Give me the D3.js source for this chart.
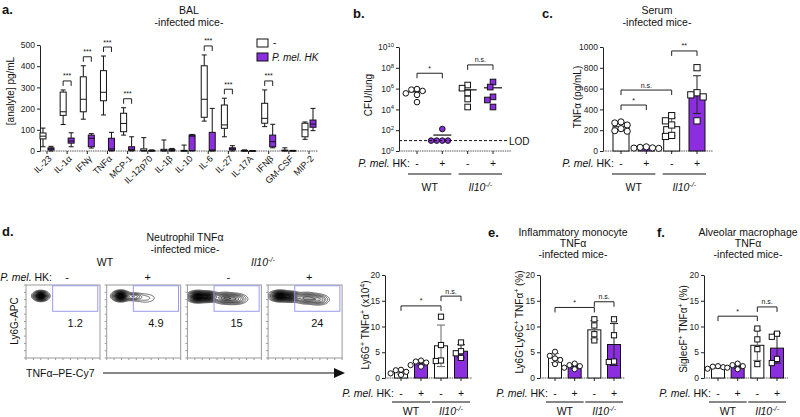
<!DOCTYPE html>
<html><head><meta charset="utf-8">
<script src="https://cdn.jsdelivr.net/npm/d3@7"></script>
<style>body{margin:0;background:#fff}svg{display:block}</style>
</head><body><svg id="c" width="800" height="417"></svg>
<script>
const PURPLE = "#8c2ee0";
const FONT = "'Liberation Sans', Arial, Helvetica, sans-serif";

// ---------- Panel a data (BAL box plots: [min, q1, median, q3, max]) ----------
const cytokines = ["IL-23","IL-1α","IFNγ","TNFα","MCP-1","IL-12p70","IL-1β","IL-10","IL-6","IL-27","IL-17A","IFNβ","GM-CSF","MIP-2"];
const balUntreated = [[20,57,70,85,108],[125,168,185,278,288],[150,185,244,350,402],[170,237,277,379,448],[75,91,130,178,204],[0,1,3,10,63],[0,1,3,8,52],[0,0,1,3,28],[141,159,244,402,453],[67,107,123,217,249],[0,0,1,3,5],[115,131,154,225,288],[0,1,2,4,15],[55,67,100,131,137]];
const balHK = [[0,5,10,15,22],[20,37,47,61,86],[14,20,60,75,82],[0,3,10,60,88],[0,3,8,20,67],[0,0,1,3,5],[0,1,3,8,12],[0,2,70,75,78],[0,1,5,88,201],[0,5,10,15,25],[0,0,1,1,2],[15,20,44,75,126],[0,0,1,2,3],[96,112,127,146,201]];
const balSig = [null,"***","***","***","***",null,null,null,"***","***",null,"***",null,null];
const balTicks = [0,100,200,300,400,500];

// ---------- Panel b (CFU/lung) ----------
const groupKeys = ["WT-","WT+","KO-","KO+"];
const hkLabels = ["-","+","-","+"];
const cfuWTneg = [9e5,8e5,6e5,3.5e5,2.5e5,5e4];
const cfuWTpos = [130,10,10,10,10];
const cfuKOneg = [2.2e6,1.1e6,3.8e5,1e5,1.7e4];
const cfuKOpos = [4.3e6,1.4e6,1.6e5,8e4,1.7e4];
const cfuLOD = 10;
const cfuTicks = [1,1e2,1e4,1e6,1e8,1e10];
const cfuSig = [["*",0,1,3e7],["n.s.",2,3,1.9e8]];

// ---------- Panel c (serum TNFα) ----------
const serumWTneg = [280,270,250,215,195,190];
const serumWTpos = [40,35,30,28,25];
const serumKOneg = [340,290,250,150,140];
const serumKOpos = [801,560,540,520,290];
const serumTicks = [0,200,400,600,800,1000];
const serumSig = [["*",0,1,442],["n.s.",0,2,586],["**",2,3,962]];

// ---------- Panel d (neutrophil) ----------
const flowHK = ["-","+","-","+"];
const flowPct = ["1.2","4.9","15","24"];
// populations: [centre x, centre y, spread x, spread y, weight] in flow units (0-100)
const flowPops = [
  [[20,85,4.5,2.8,1],[62,84,12,5,0.01]],
  [[19,85,5,3,1],[36,84,6,2.5,0.18],[52,82,9,4,0.05]],
  [[14,84,6,3.2,1],[28,84,6,3,0.7],[50,82,7,3.5,0.3],[64,81,8,3.5,0.25]],
  [[16,85,6,3,1],[30,84,6,3,0.6],[52,82,8,3.5,0.3],[68,80,7,3.5,0.2]]
];
const flowGate = [36,97,64,99];
const neutWTneg = [0.6,0.9,1.2,1.5,1.6];
const neutWTpos = [2.2,2.5,3.0,3.2,3.4];
const neutKOneg = [3.3,3.4,6.4,11.9];
const neutKOpos = [3.9,4.8,5.2,6.9];
const neutSig = [["*",0,2,14.0],["n.s.",2,3,15.9]];

// ---------- Panel e (monocyte) ----------
const monoWTneg = [2.7,3.5,3.8,4.3,5.1];
const monoWTpos = [1.7,2.0,2.3,2.5,2.8];
const monoKOneg = [7.3,8.5,10.2,11.4];
const monoKOpos = [3.1,3.2,8.3,11.4];
const monoSig = [["*",0,2,13.7],["n.s.",2,3,14.8]];

// ---------- Panel f (alveolar macrophage) ----------
const macWTneg = [1.8,2.1,2.2,2.3];
const macWTpos = [1.7,2.0,2.3,2.5,2.8];
const macKOneg = [2.7,5.6,7.5,9.6];
const macKOpos = [2.9,3.7,8.0,8.6];
const macSig = [["*",0,2,12.0],["n.s.",2,3,13.8]];
const pctTicks = [0,5,10,15,20];

const svg = d3.select("#c");

function rich(t, parts, size) {
  let up = 0;
  parts.forEach(p => {
    const [txt, o] = Array.isArray(p) ? [p[0], p[1] || {}] : [p, {}];
    const ts = t.append("tspan").text(txt);
    const target = o.sup ? -size * 0.4 : 0;
    if (target !== up) { ts.attr("dy", target - up); up = target; }
    if (o.sup) ts.attr("font-size", size * 0.7);
    if (o.italic) ts.attr("font-style", "italic");
  });
}
function addText(g, x, y, str, o = {}) {
  const size = o.size || 10;
  const t = g.append("text").attr("x", x).attr("y", y).attr("font-family", FONT)
    .attr("font-size", size).attr("fill", "#111").attr("text-anchor", o.anchor || "middle");
  if (o.bold) t.attr("font-weight", "bold");
  if (o.italic) t.attr("font-style", "italic");
  if (o.rotate) t.attr("transform", `rotate(${o.rotate},${x},${y})`);
  if (Array.isArray(str)) rich(t, str, size); else t.text(str);
  return t;
}
function styleAxis(sel) {
  sel.attr("font-family", FONT).attr("font-size", 8.5);
  sel.select(".domain").attr("stroke", "#222");
  sel.selectAll(".tick line").attr("stroke", "#222");
  sel.selectAll(".tick text").attr("fill", "#222");
}
function bracket(g, x1, x2, y, label) {
  g.append("path").attr("d", `M${x1},${y + 5}V${y}H${x2}V${y + 5}`).attr("fill", "none").attr("stroke", "#222").attr("stroke-width", 1);
  addText(g, (x1 + x2) / 2, y - 2.5, label, { size: 7 });
}
function dodge(vals, y, r) {
  const pts = vals.map(v => ({ v, py: y(v) })).sort((a, b) => a.py - b.py);
  const placed = [];
  pts.forEach(p => {
    for (let k = 0; k < 40; k++) {
      const off = (k % 2 ? -1 : 1) * Math.ceil(k / 2) * r;
      const ok = placed.every(q => Math.hypot(q.dx - off, q.py - p.py) >= 2 * r * 0.98);
      if (ok) { p.dx = off; placed.push(p); break; }
    }
  });
  return placed;
}
function marker(g, shape, cx, cy, r, fill) {
  if (shape === "circle") g.append("circle").attr("cx", cx).attr("cy", cy).attr("r", r).attr("fill", fill).attr("stroke", "#111").attr("stroke-width", 1);
  else g.append("rect").attr("x", cx - r).attr("y", cy - r).attr("width", 2 * r).attr("height", 2 * r).attr("fill", fill).attr("stroke", "#111").attr("stroke-width", 1);
}

// ================= Panel a =================
(function () {
  const g = svg.append("g");
  addText(g, 2, 14, "a.", { size: 13, bold: true, anchor: "start" });
  addText(g, 189, 14, "BAL", { size: 10.5 });
  addText(g, 189, 26, "-infected mice-", { size: 10.5 });
  const x = d3.scalePoint().domain(cytokines).range([47, 309]);
  const y = d3.scaleLinear().domain([0, 500]).range([151, 45]);
  g.append("g").attr("transform", "translate(40,0)")
    .call(d3.axisLeft(y).tickValues(balTicks).tickSize(3).tickSizeOuter(0).tickPadding(2)).call(styleAxis);
  g.append("line").attr("x1", 40).attr("x2", 318).attr("y1", 151).attr("y2", 151).attr("stroke", "#555").attr("stroke-dasharray", "1.5,0.8");
  cytokines.forEach(c => {
    g.append("line").attr("x1", x(c)).attr("x2", x(c)).attr("y1", 151).attr("y2", 154).attr("stroke", "#222");
    g.append("text").attr("transform", `translate(${x(c) + 3},157) rotate(-45)`).attr("text-anchor", "end")
      .attr("dy", "0.35em").attr("font-family", FONT).attr("font-size", 9).attr("fill", "#111").text(c);
  });
  const bw = 6;
  function box(cx, d, fill) {
    const s = "#111";
    g.append("line").attr("x1", cx).attr("x2", cx).attr("y1", y(d[0])).attr("y2", y(d[1])).attr("stroke", s);
    g.append("line").attr("x1", cx).attr("x2", cx).attr("y1", y(d[3])).attr("y2", y(d[4])).attr("stroke", s);
    [d[0], d[4]].forEach(v => g.append("line").attr("x1", cx - 2.5).attr("x2", cx + 2.5).attr("y1", y(v)).attr("y2", y(v)).attr("stroke", s));
    g.append("rect").attr("x", cx - bw / 2).attr("y", y(d[3])).attr("width", bw).attr("height", Math.max(0.5, y(d[1]) - y(d[3])))
      .attr("fill", fill).attr("stroke", s).attr("stroke-width", 1);
    g.append("line").attr("x1", cx - bw / 2).attr("x2", cx + bw / 2).attr("y1", y(d[2])).attr("y2", y(d[2])).attr("stroke", s);
  }
  cytokines.forEach((c, i) => {
    box(x(c) - 4, balUntreated[i], "#fff");
    box(x(c) + 4, balHK[i], PURPLE);
    if (balSig[i]) {
      const top = y(Math.max(balUntreated[i][4], balHK[i][4])) - 9;
      bracket(g, x(c) - 4, x(c) + 4, top, balSig[i]);
    }
  });
  addText(g, 14, 91, "[analyte] pg/mL", { size: 10, rotate: -90 });
  // legend
  g.append("rect").attr("x", 257).attr("y", 39).attr("width", 11).attr("height", 8).attr("fill", "#fff").attr("stroke", "#111");
  addText(g, 273, 46, "-", { size: 10, anchor: "start" });
  g.append("rect").attr("x", 257).attr("y", 53).attr("width", 11).attr("height", 8).attr("fill", PURPLE).attr("stroke", "#111");
  addText(g, 272, 61, "P. mel. HK", { size: 10, anchor: "start", italic: true });
})();

// ============ generic grouped panel (b, c, d-bar, e, f) ============
function groupPanel(cfg) {
  const g = svg.append("g");
  const x = d3.scalePoint().domain(groupKeys).range([cfg.x0, cfg.x1]);
  const y = (cfg.log ? d3.scaleLog() : d3.scaleLinear()).domain(cfg.domain).range([cfg.yb, cfg.yt]);
  const ax = d3.axisLeft(y).tickValues(cfg.ticks).tickSize(3).tickSizeOuter(0).tickPadding(2).tickFormat(d3.format("d"));
  const axg = g.append("g").attr("transform", `translate(${cfg.axisX},0)`).call(ax).call(styleAxis);
  if (cfg.log) {
    axg.selectAll(".tick text").each(function (d) {
      const t = d3.select(this); t.text("");
      rich(t, ["10", [String(Math.round(Math.log10(d))), { sup: true }]], 8.5);
    });
  }
  g.append("line").attr("x1", cfg.axisX).attr("x2", cfg.xEnd).attr("y1", cfg.yb).attr("y2", cfg.yb).attr("stroke", "#555").attr("stroke-dasharray", "1.5,0.8");
  groupKeys.forEach(k => g.append("line").attr("x1", x(k)).attr("x2", x(k)).attr("y1", cfg.yb).attr("y2", cfg.yb + 3).attr("stroke", "#222"));
  groupKeys.forEach((k, i) => {
    const vals = cfg.values[i];
    const m = d3.mean(vals), sd = d3.deviation(vals);
    const purple = i % 2 === 1;
    const shape = i < 2 ? "circle" : "square";
    if (!cfg.log) {
      g.append("rect").attr("x", x(k) - cfg.bw / 2).attr("y", y(m)).attr("width", cfg.bw).attr("height", y(0) - y(m))
        .attr("fill", purple ? PURPLE : "#fff").attr("stroke", "#111").attr("stroke-width", 1);
      const es = purple ? "#222" : "#666";
      g.append("line").attr("x1", x(k)).attr("x2", x(k)).attr("y1", y(Math.max(0, m - sd))).attr("y2", y(m + sd)).attr("stroke", es);
      g.append("line").attr("x1", x(k) - 4).attr("x2", x(k) + 4).attr("y1", y(m + sd)).attr("y2", y(m + sd)).attr("stroke", es);
      if (m - sd > 0) g.append("line").attr("x1", x(k) - 4).attr("x2", x(k) + 4).attr("y1", y(m - sd)).attr("y2", y(m - sd)).attr("stroke", es);
    } else {
      g.append("line").attr("x1", x(k) - 9).attr("x2", x(k) + 9).attr("y1", y(m)).attr("y2", y(m)).attr("stroke", "#111").attr("stroke-width", 1.2);
    }
    const fill = cfg.log && purple ? PURPLE : "#fff";
    dodge(vals, y, cfg.r).forEach(p => marker(g, shape, x(k) + p.dx, p.py, cfg.r, fill));
  });
  if (cfg.lod) {
    g.append("line").attr("x1", cfg.axisX).attr("x2", cfg.xEnd - 3).attr("y1", y(cfg.lod)).attr("y2", y(cfg.lod)).attr("stroke", "#111").attr("stroke-dasharray", "3,2");
    addText(g, cfg.xEnd - 2, y(cfg.lod) + 4, "LOD", { size: 10, anchor: "start" });
  }
  cfg.sig.forEach(s => bracket(g, x(groupKeys[s[1]]), x(groupKeys[s[2]]), y(s[3]), s[0]));
  // bottom labels
  addText(g, x("WT-") - 7, cfg.hkY, [["P. mel.", { italic: true }], " HK:"], { size: 10.5, anchor: "end" });
  groupKeys.forEach((k, i) => addText(g, x(k), cfg.hkY, hkLabels[i], { size: 10.5 }));
  [["WT-", "WT+", ["WT"]], ["KO-", "KO+", [["Il10", { italic: true }], ["-/-", { sup: true, italic: true }]]]].forEach(([a, b, lab]) => {
    g.append("line").attr("x1", x(a) - 9).attr("x2", x(b) + 9).attr("y1", cfg.ulY).attr("y2", cfg.ulY).attr("stroke", "#111");
    addText(g, (x(a) + x(b)) / 2, cfg.genoY, lab, { size: 10.5 });
  });
  addText(g, cfg.ylabX, cfg.ylabY, cfg.ylab, { size: 10, rotate: -90 });
  return g;
}

// ================= Panel b =================
addText(svg, 353, 18, "b.", { size: 13, bold: true, anchor: "start" });
groupPanel({
  log: true, axisX: 399, x0: 417, x1: 493, xEnd: 511, domain: [1, 1e10], yb: 151, yt: 47, ticks: cfuTicks,
  values: [cfuWTneg, cfuWTpos, cfuKOneg, cfuKOpos], r: 2.8, lod: cfuLOD, sig: cfuSig,
  hkY: 167, ulY: 174, genoY: 191, ylabX: 372, ylabY: 95, ylab: "CFU/lung"
});

// ================= Panel c =================
addText(svg, 542, 18, "c.", { size: 13, bold: true, anchor: "start" });
addText(svg, 657, 14, "Serum", { size: 10.5 });
addText(svg, 657, 26, "-infected mice-", { size: 10.5 });
groupPanel({
  axisX: 603, x0: 621, x1: 697, xEnd: 713, domain: [0, 1000], yb: 151, yt: 47, ticks: serumTicks, bw: 16,
  values: [serumWTneg, serumWTpos, serumKOneg, serumKOpos], r: 3.1, sig: serumSig,
  hkY: 167, ulY: 174, genoY: 191, ylabX: 581, ylabY: 97, ylab: "TNFα (pg/mL)"
});

// ================= Panel d =================
(function () {
  const g = svg.append("g");
  addText(g, 2, 236, "d.", { size: 13, bold: true, anchor: "start" });
  addText(g, 185, 241, "Neutrophil TNFα", { size: 10.5 });
  addText(g, 185, 253, "-infected mice-", { size: 10.5 });
  addText(g, 105, 266, "WT", { size: 10.5 });
  addText(g, 263, 266, [["Il10", { italic: true }], ["-/-", { sup: true, italic: true }]], { size: 10.5 });
  addText(g, 52, 281, [["P. mel.", { italic: true }], " HK:"], { size: 10.5, anchor: "end" });
  const left0 = 26, step = 80.7, W = 74, top = 285, bot = 358, H = bot - top;
  const defs = svg.append("defs");
  flowPops.forEach((pops, i) => {
    const left = left0 + i * step;
    const fx = d3.scaleLinear().domain([0, 100]).range([left, left + W]);
    const fy = d3.scaleLinear().domain([0, 100]).range([bot, top]);
    const vals = new Float64Array(W * H);
    for (let j = 0; j < H; j++) for (let k = 0; k < W; k++) {
      const xv = fx.invert(left + k + 0.5), yv = fy.invert(top + j + 0.5);
      let s = 0;
      pops.forEach(p => { s += p[4] * Math.exp(-((xv - p[0]) ** 2) / (2 * p[2] ** 2) - ((yv - p[1]) ** 2) / (2 * p[3] ** 2)); });
      vals[j * W + k] = s;
    }
    const mx = d3.max(vals);
    const th = [0.02, 0.04, 0.07, 0.1, 0.14, 0.19, 0.25, 0.32, 0.4, 0.48, 0.56, 0.64, 0.72, 0.8, 0.88, 0.95].map(f => f * mx);
    const cs = d3.contours().size([W, H]).thresholds(th)(vals);
    defs.append("clipPath").attr("id", "fc" + i).append("rect").attr("x", 0).attr("y", 0).attr("width", W).attr("height", H);
    g.append("g").attr("transform", `translate(${left},${top})`).attr("clip-path", `url(#fc${i})`)
      .selectAll("path").data(cs).join("path")
      .attr("d", d3.geoPath()).attr("fill", (d, idx) => idx >= 5 ? "#000" : "none").attr("fill-opacity", 0.2)
      .attr("stroke", "#000").attr("stroke-width", 0.55);
    g.append("rect").attr("x", left).attr("y", top).attr("width", W).attr("height", H).attr("fill", "none").attr("stroke", "#999");
    fx.ticks(10).forEach(t => g.append("line").attr("x1", fx(t)).attr("x2", fx(t)).attr("y1", bot).attr("y2", bot + 2).attr("stroke", "#999"));
    fy.ticks(10).forEach(t => g.append("line").attr("x1", left - 2).attr("x2", left).attr("y1", fy(t)).attr("y2", fy(t)).attr("stroke", "#999"));
    g.append("rect").attr("x", fx(flowGate[0])).attr("y", fy(flowGate[3])).attr("width", fx(flowGate[1]) - fx(flowGate[0]))
      .attr("height", fy(flowGate[2]) - fy(flowGate[3])).attr("fill", "none").attr("stroke", "#9a9af0").attr("stroke-width", 1);
    addText(g, fx((flowGate[0] + flowGate[1]) / 2), 327, flowPct[i], { size: 11 });
    addText(g, left + W / 2 + 4, 281, flowHK[i], { size: 11 });
  });
  addText(g, 18, 321, "Ly6G-APC", { size: 10, rotate: -90 });
  addText(g, 26, 377, "TNFα–PE-Cy7", { size: 10.5, anchor: "start" });
  g.append("line").attr("x1", 103).attr("x2", 336).attr("y1", 373).attr("y2", 373).attr("stroke", "#111").attr("stroke-width", 1.2);
  g.append("path").attr("d", "M334,368L345,373L334,378Z").attr("fill", "#111");
})();
groupPanel({
  axisX: 385, x0: 401, x1: 461, xEnd: 472, domain: [0, 20], yb: 378, yt: 275, ticks: pctTicks, bw: 13,
  values: [neutWTneg, neutWTpos, neutKOneg, neutKOpos], r: 2.6, sig: neutSig,
  hkY: 397, ulY: 402, genoY: 415, ylabX: 369, ylabY: 325,
  ylab: ["Ly6G", ["+", { sup: true }], " TNFα", ["+", { sup: true }], " (x10", ["4", { sup: true }], ")"]
});

// ================= Panel e =================
addText(svg, 488, 237, "e.", { size: 13, bold: true, anchor: "start" });
addText(svg, 573, 236, "Inflammatory monocyte", { size: 10.5 });
addText(svg, 573, 247, "TNFα", { size: 10.5 });
addText(svg, 573, 258, "-infected mice-", { size: 10.5 });
groupPanel({
  axisX: 540, x0: 555, x1: 614, xEnd: 625, domain: [0, 20], yb: 378, yt: 275, ticks: pctTicks, bw: 13,
  values: [monoWTneg, monoWTpos, monoKOneg, monoKOpos], r: 2.6, sig: monoSig,
  hkY: 397, ulY: 402, genoY: 415, ylabX: 523, ylabY: 322,
  ylab: ["Ly6G", ["-", { sup: true }], "Ly6C", ["+", { sup: true }], " TNFα", ["+", { sup: true }], " (%)"]
});

// ================= Panel f =================
addText(svg, 657, 237, "f.", { size: 13, bold: true, anchor: "start" });
addText(svg, 748, 236, "Alveolar macrophage", { size: 10.5 });
addText(svg, 748, 247, "TNFα", { size: 10.5 });
addText(svg, 748, 258, "-infected mice-", { size: 10.5 });
groupPanel({
  axisX: 704, x0: 718, x1: 777, xEnd: 788, domain: [0, 20], yb: 378, yt: 275, ticks: pctTicks, bw: 13,
  values: [macWTneg, macWTpos, macKOneg, macKOpos], r: 2.6, sig: macSig,
  hkY: 397, ulY: 402, genoY: 415, ylabX: 687, ylabY: 329,
  ylab: ["SiglecF", ["+", { sup: true }], " TNFα", ["+", { sup: true }], " (%)"]
});
</script></body></html>
